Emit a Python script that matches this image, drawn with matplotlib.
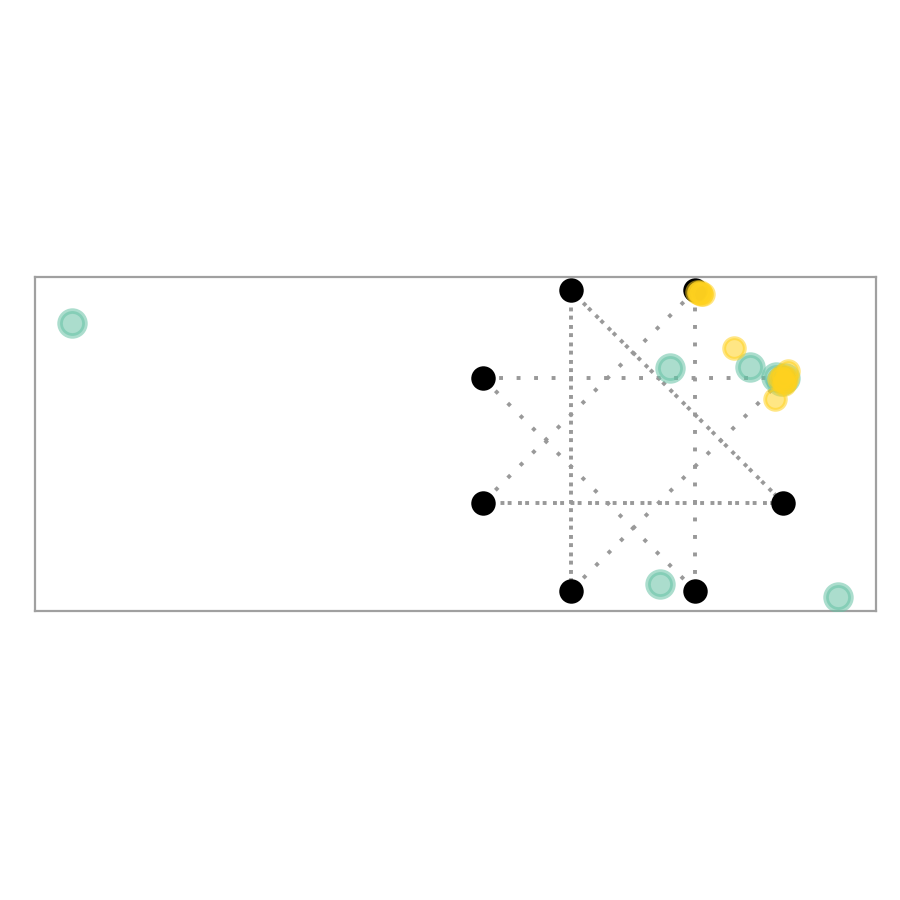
import numpy as np
import matplotlib
matplotlib.use("Agg")
import matplotlib.pyplot as plt

# anchor angles (degrees) of the eight vertices, radius 1
anchor_deg = [22.5, 67.5, 112.5, 157.5, 202.5, 247.5, 292.5, 337.5]

# star edges (i, j) and whether the edge is drawn twice
edges = [(2, 5), (4, 7), (2, 7), (1, 6), (0, 3), (3, 6), (4, 1), (5, 0)]
edge_twice = [True, True, True, False, False, False, False, False]

# group A (green)
green_x = [-3.454, 0.228, 0.720, 0.881, 0.911, 0.936, 0.166, 1.262]
green_y = [0.724, 0.446, 0.453, 0.391, 0.367, 0.385, -0.884, -0.964]

# group B (yellow)
yellow_x = [0.394, 0.406, 0.413, 0.419, 0.431, 0.622, 0.874,
            0.900, 0.924, 0.936, 0.948, 0.918, 0.954, 0.930]
yellow_y = [0.914, 0.908, 0.912, 0.905, 0.904, 0.570, 0.256,
            0.379, 0.373, 0.360, 0.385, 0.397, 0.428, 0.350]

fig = plt.figure(figsize=(9, 9), dpi=100)
ax = fig.add_axes([35/900, 1-611/900, 841/900, 334/900])

ang = np.radians(anchor_deg)
vx = np.cos(ang)
vy = np.sin(ang)

for (i, j), twice in zip(edges, edge_twice):
    ax.plot([vx[i], vx[j]], [vy[i], vy[j]], color="#999999", lw=2.8,
            ls=(0, (1, 3.5)), zorder=1)
    if twice:
        ax.plot([vx[j], vx[i]], [vy[j], vy[i]], color="#999999", lw=2.8,
                ls=(2.2, (1, 3.5)), zorder=1)

ax.scatter(vx, vy, s=310, color="black", zorder=2, linewidths=0)

ax.scatter(green_x, green_y, s=320, facecolor="#66c2a5", edgecolor="#66c2a5",
           linewidths=4, alpha=0.55, zorder=3)
ax.scatter(yellow_x, yellow_y, s=220, facecolor="#ffd21f", edgecolor="#ffd21f",
           linewidths=2.8, alpha=0.55, zorder=4)

ax.set_xlim(-3.682, 1.496)
ax.set_ylim(-1.050, 1.007)
ax.set_xticks([])
ax.set_yticks([])
for sp in ax.spines.values():
    sp.set_color("#a0a0a0")
    sp.set_linewidth(1.6)

fig.savefig("out.png", dpi=100)
